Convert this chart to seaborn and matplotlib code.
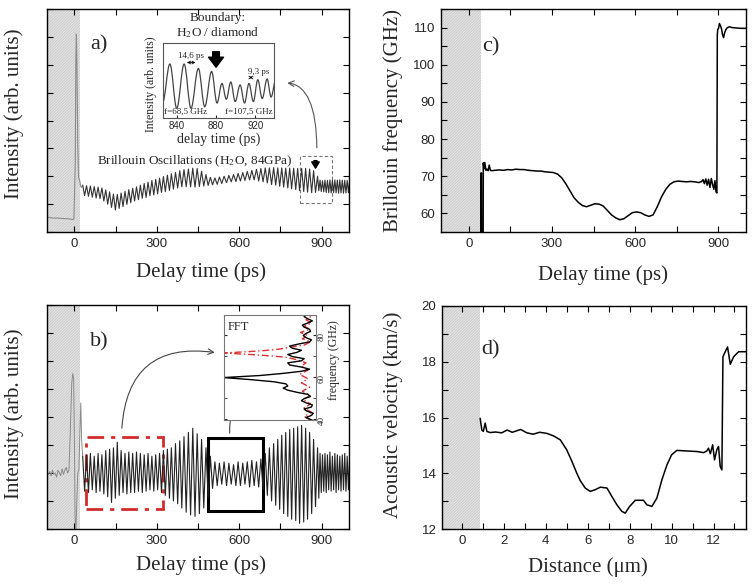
import matplotlib
matplotlib.use("Agg")
import matplotlib.pyplot as plt
import seaborn as sns
from matplotlib.patches import Rectangle, PathPatch
from matplotlib.path import Path
from matplotlib.ticker import MultipleLocator

# ---- data ----
# a)/b) extrema of the Brillouin oscillations (ps)
t_osc = [30, 37, 44, 51, 58, 65, 72, 79, 86, 93,
         100, 107, 114, 121, 128, 135, 142, 149, 156, 163,
         170, 177, 184, 191, 198, 205, 212, 219, 226, 233,
         240, 247, 254, 261, 268, 275, 282, 289, 296, 303,
         310, 317, 324, 331, 338.5, 346, 353, 360.5, 368, 376,
         383.5, 391, 399, 407, 415, 423, 431, 439, 447, 455,
         463, 471, 479, 487, 495, 503, 511.5, 520, 528, 536.5,
         545, 554, 562.5, 571, 579.5, 588, 596, 604.5, 613, 621,
         629.5, 638, 646, 654.5, 663, 671, 679, 687, 695, 702.5,
         710, 718, 725.5, 733, 740.5, 747.5, 755, 762, 769.5, 777,
         784, 791, 798.5, 806, 813, 820, 827.5, 835, 842, 849,
         856.5, 864, 871, 878, 885.5, 890, 894.5, 899, 903.5, 908,
         912.5, 917, 921.5, 926, 930.5, 935, 939.5, 944, 948.5, 953,
         957.5, 962, 966.5, 971, 975.5, 980, 984.5, 989, 993.5, 998,
         1002.5]
a_osc = [1.68, 1.31, 1.66, 1.28, 1.65, 1.25, 1.63, 1.22, 1.61, 1.20,
         1.58, 1.11, 1.51, 1.00, 1.44, 0.88, 1.36, 0.79, 1.35, 0.85,
         1.40, 0.91, 1.46, 0.99, 1.52, 1.05, 1.57, 1.11, 1.62, 1.16,
         1.68, 1.21, 1.74, 1.24, 1.79, 1.30, 1.85, 1.33, 1.89, 1.37,
         1.93, 1.42, 1.99, 1.45, 2.04, 1.49, 2.09, 1.54, 2.14, 1.58,
         2.20, 1.62, 2.24, 1.62, 2.26, 1.62, 2.29, 1.61, 2.28, 1.63,
         2.18, 1.65, 2.06, 1.67, 1.96, 1.69, 1.94, 1.71, 1.97, 1.74,
         2.00, 1.77, 2.03, 1.80, 2.06, 1.81, 2.10, 1.83, 2.13, 1.85,
         2.17, 1.87, 2.21, 1.87, 2.25, 1.83, 2.28, 1.80, 2.30, 1.76,
         2.30, 1.70, 2.31, 1.68, 2.30, 1.64, 2.30, 1.61, 2.29, 1.58,
         2.29, 1.55, 2.29, 1.52, 2.28, 1.48, 2.28, 1.45, 2.28, 1.43,
         2.26, 1.41, 2.20, 1.42, 2.00, 1.48, 1.86, 1.45, 1.84, 1.44,
         1.86, 1.42, 1.85, 1.41, 1.87, 1.40, 1.86, 1.41, 1.87, 1.40,
         1.86, 1.39, 1.87, 1.40, 1.86, 1.39, 1.86, 1.40, 1.85, 1.41,
         1.86]
b_osc = [2.60, 1.35, 2.65, 1.30, 2.70, 1.40, 2.60, 1.30, 2.70, 1.35,
         2.65, 1.25, 2.80, 1.15, 2.85, 0.95, 2.90, 1.10, 3.10, 1.20,
         2.80, 1.30, 2.70, 1.25, 2.75, 1.30, 2.70, 1.30, 2.75, 1.35,
         2.70, 1.30, 2.65, 1.35, 2.70, 1.40, 2.60, 1.35, 2.65, 1.40,
         2.70, 1.30, 2.80, 1.20, 2.85, 1.10, 2.90, 1.00, 3.05, 0.90,
         3.15, 0.75, 3.30, 0.60, 3.45, 0.50, 3.60, 0.45, 3.40, 0.55,
         3.20, 0.75, 2.90, 1.10, 2.60, 1.45, 2.40, 1.55, 2.35, 1.60,
         2.40, 1.55, 2.35, 1.60, 2.30, 1.55, 2.40, 1.55, 2.35, 1.60,
         2.40, 1.50, 2.45, 1.55, 2.40, 1.50, 2.50, 1.40, 2.70, 1.20,
         2.90, 1.00, 3.05, 0.85, 3.20, 0.70, 3.35, 0.55, 3.45, 0.45,
         3.55, 0.35, 3.60, 0.30, 3.65, 0.20, 3.70, 0.25, 3.60, 0.35,
         3.45, 0.55, 3.20, 0.80, 2.90, 1.10, 2.70, 1.30, 2.65, 1.35,
         2.70, 1.30, 2.65, 1.40, 2.75, 1.35, 2.60, 1.40, 2.70, 1.30,
         2.65, 1.40, 2.60, 1.35, 2.65, 1.40, 2.70, 1.35, 2.60, 1.40,
         2.65]

# signal before / around time zero
t_pre_a = [-100, -92, -80, -65, -50, -35, -20, -8, -2, 3, 5, 7, 9, 12, 15, 19, 23, 27, 30]
v_pre_a = [0.55, 0.52, 0.50, 0.50, 0.49, 0.48, 0.47, 0.45, 0.47, 2.5, 6.2, 7.1, 6.0, 3.2, 1.95, 1.85, 1.62, 1.60, 1.68]
t_pre_b = [-100, -95, -90, -85, -80, -75, -70, -65, -60, -55, -50, -45, -40, -35, -30, -25,
           -20, -15, -10, -6, -3, 0, 2, 5, 8, 12, 16, 20, 23, 26, 30]
v_pre_b = [2.0, 1.95, 2.05, 1.9, 2.1, 1.95, 2.0, 1.85, 2.1, 2.0, 1.9, 2.15, 1.95, 2.1, 2.2, 2.0,
           2.1, 3.5, 5.2, 5.55, 5.4, 3.0, 0.5, -0.2, 0.8, 2.0, 2.1, 3.5, 4.5, 3.2, 2.6]

# inset of a): boundary region
t_in = [825.5, 833, 840, 847.5, 854.5, 862, 868.5, 875.5, 881, 886, 890.5, 895, 899.5,
        904.5, 909, 913.5, 918, 922.5, 927, 932, 936, 941]
v_in = [0.20, 0.72, 0.13, 0.72, 0.13, 0.66, 0.15, 0.62, 0.20, 0.46, 0.25, 0.48, 0.22,
        0.44, 0.20, 0.46, 0.22, 0.51, 0.26, 0.52, 0.28, 0.52]

# inset of b): FFT (frequency in GHz, amplitude arb.)
f_fft_k = [39.2, 40.5, 41.5, 42.5, 43.5, 44.5, 45.5, 46.5, 47.5, 48.5, 49.5, 50.5, 51.5,
           52.5, 53.5, 54.5, 55.5, 56.5, 57.5, 58.5, 59.5, 60.5, 61.5, 62.5, 63.5, 64.5,
           65.5, 66.5, 67.5, 68.5, 69.5, 70.5, 71.5, 72.5, 73.5, 74.5, 75.5, 76.5, 77.5,
           78.5, 79.5, 80.5, 81.5, 82.5, 83.5, 84.5, 85.5, 86.5, 87.5, 88.5, 89.3]
a_fft_k = [0.03, 0.10, 0.04, 0.02, 0.09, 0.12, 0.04, 0.03, 0.10, 0.15, 0.12, 0.05, 0.08,
           0.20, 0.30, 0.35, 0.30, 0.32, 0.45, 0.70, 1.00, 0.60, 0.35, 0.15, 0.06, 0.15,
           0.28, 0.30, 0.15, 0.12, 0.25, 0.30, 0.20, 0.15, 0.25, 0.28, 0.18, 0.06, 0.04,
           0.10, 0.13, 0.10, 0.05, 0.06, 0.12, 0.14, 0.08, 0.03, 0.08, 0.12, 0.10]
f_fft_r = [39.2, 41, 43, 45, 47, 49, 51, 53, 55, 57, 59, 61, 63, 65, 66.5, 68, 69.2, 70.2,
           71.2, 72.2, 73, 73.9, 75, 76.5, 78, 79.5, 81, 82.5, 84, 85.5, 87, 88.5, 89.3]
a_fft_r = [0.05, 0.12, 0.04, 0.12, 0.05, 0.13, 0.05, 0.14, 0.06, 0.15, 0.08, 0.17, 0.08,
           0.15, 0.10, 0.20, 0.32, 0.60, 1.00, 0.60, 0.40, 0.28, 0.12, 0.05, 0.14, 0.08,
           0.16, 0.06, 0.12, 0.04, 0.10, 0.05, 0.08]

# c) Brillouin frequency vs delay time
t_c = [44, 44.5, 46, 46.5, 52, 52.5, 55, 58, 62, 66, 70, 74, 78, 84, 95, 110, 125, 140,
       155, 170, 185, 200, 215, 230, 245, 260, 275, 290, 305, 320, 335, 350, 365, 380,
       395, 410, 425, 440, 455, 470, 485, 500, 515, 530, 545, 560, 575, 590, 605, 620,
       635, 650, 665, 680, 695, 710, 725, 740, 755, 770, 785, 800, 815, 830, 840, 845,
       850, 855, 860, 865, 870, 875, 880, 884, 888, 892, 895, 896.5, 898, 901, 904, 908,
       912, 915, 919, 923, 927, 933, 940, 950, 965, 980, 1000]
f_c = [54, 70.9, 70.9, 54, 54, 73.6, 72.0, 73.7, 71.6, 71.9, 71.5, 73.0, 71.6, 71.5,
       71.6, 71.7, 71.6, 71.8, 71.7, 71.9, 71.8, 71.8, 71.6, 71.5, 71.4, 71.4, 71.2,
       71.1, 71.0, 70.6, 69.6, 68.0, 66.1, 64.2, 63.0, 62.1, 61.8, 62.2, 62.6, 62.5,
       62.0, 60.8, 59.6, 58.8, 58.3, 58.6, 59.4, 60.2, 60.4, 60.2, 59.6, 59.2, 59.6,
       61.8, 64.4, 66.4, 67.8, 68.5, 68.7, 68.6, 68.5, 68.6, 68.5, 68.3, 68.6, 69.1,
       68.0, 69.3, 67.6, 69.2, 67.0, 69.4, 67.6, 66.5, 68.8, 65.8, 65.5, 108.0, 109.5,
       109.8, 111.1, 110.5, 109.6, 108.2, 107.3, 108.6, 109.4, 110.0, 110.2, 110.0,
       109.9, 109.8, 109.8]

# d) acoustic velocity vs distance
x_d = [0.87, 0.95, 1.02, 1.11, 1.19, 1.35, 1.6, 1.9, 2.15, 2.4, 2.8, 3.1, 3.4, 3.7, 4.05,
       4.37, 4.69, 5.0, 5.25, 5.48, 5.64, 5.88, 6.12, 6.36, 6.6, 6.92, 7.15, 7.39, 7.63,
       7.79, 8.0, 8.27, 8.66, 8.82, 9.06, 9.3, 9.54, 9.78, 10.0, 10.25, 10.7, 11.2, 11.53,
       11.68, 11.76, 11.85, 11.96, 12.05, 12.16, 12.24, 12.32, 12.4, 12.45, 12.56, 12.67,
       12.8, 12.96, 13.2, 13.55]
v_d = [15.97, 15.55, 15.5, 15.8, 15.5, 15.46, 15.48, 15.45, 15.55, 15.47, 15.57, 15.45,
       15.4, 15.47, 15.43, 15.34, 15.2, 14.84, 14.42, 14.0, 13.74, 13.47, 13.35, 13.41,
       13.5, 13.47, 13.17, 12.87, 12.63, 12.57, 12.81, 13.03, 13.03, 12.87, 12.81, 13.11,
       13.77, 14.3, 14.66, 14.82, 14.8, 14.78, 14.74, 14.8, 14.9, 14.7, 15.02, 14.48,
       14.85, 14.96, 14.24, 14.12, 18.18, 18.36, 18.53, 17.91, 18.18, 18.36, 18.36]

# ---- style ----
sns.set_style("ticks")
plt.rcParams["font.family"] = ["Liberation Sans", "DejaVu Sans"]
plt.rcParams["mathtext.fontset"] = "stix"
plt.rcParams["hatch.linewidth"] = 0.5
SERIF = ["Liberation Serif", "DejaVu Serif"]
LBL = 15

fig = plt.figure(figsize=(7.53, 5.86), dpi=100)
ax_a = fig.add_axes([47 / 753, 1 - 232 / 586, 302 / 753, 223 / 586])
ax_b = fig.add_axes([47 / 753, 1 - 529 / 586, 302 / 753, 224 / 586])
ax_c = fig.add_axes([441 / 753, 1 - 232 / 586, 305 / 753, 223 / 586])
ax_d = fig.add_axes([442 / 753, 1 - 529 / 586, 304 / 753, 223 / 586])


def shade(ax, x0, x1):
    ax.axvspan(x0, x1, facecolor="#e3e3e3", edgecolor="#c6c6c6", hatch="/" * 12, lw=0, zorder=0)


def smooth_path(xs, ys):
    verts = [(xs[0], ys[0])]
    codes = [Path.MOVETO]
    for x0, y0, x1, y1 in zip(xs[:-1], ys[:-1], xs[1:], ys[1:]):
        d = (x1 - x0) * 0.364
        verts += [(x0 + d, y0), (x1 - d, y1), (x1, y1)]
        codes += [Path.CURVE4] * 3
    return Path(verts, codes)


for ax in (ax_a, ax_b, ax_c, ax_d):
    ax.tick_params(which="both", direction="in", top=True, right=True, length=4,
                   width=0.8, labelsize=9.5, pad=4, color="k")
    for s in ax.spines.values():
        s.set_linewidth(1.0)
        s.set_color("k")

# ---- a) ----
shade(ax_a, -100, 22)
sns.lineplot(x=t_pre_a, y=v_pre_a, sort=False, estimator=None, color="#8a8a8a", lw=0.8, ax=ax_a)
sns.lineplot(x=t_osc, y=a_osc, sort=False, estimator=None, color="#333333", lw=0.8, ax=ax_a)
ax_a.set_xlim(-100, 1000)
ax_a.set_ylim(0, 8)
ax_a.xaxis.set_major_locator(MultipleLocator(300))
ax_a.xaxis.set_minor_locator(MultipleLocator(150))
ax_a.yaxis.set_major_locator(MultipleLocator(1))
ax_a.tick_params(labelleft=False)
ax_a.set_xlabel("Delay time (ps)", fontsize=LBL, family=SERIF)
ax_a.set_ylabel("Intensity (arb. units)", fontsize=LBL, family=SERIF)
ax_a.xaxis.set_label_coords(0.509, -0.135)
ax_a.yaxis.set_label_coords(-0.076, 0.53)
ax_a.text(58, 6.73, "a)", fontsize=16, family=SERIF, va="center")
ax_a.text(520, 7.66, "Boundary:", fontsize=9.5, family=SERIF, ha="center", va="center")
ax_a.text(520, 7.16, "H$_2$O / diamond", fontsize=9.5, family=SERIF, ha="center", va="center")
ax_a.text(437, 2.55, "Brillouin Oscillations (H$_2$O, 84GPa)", fontsize=9.5, family=SERIF,
          ha="center", va="center")
ax_a.add_patch(Rectangle((820, 1.05), 117, 1.68, fill=False, ec="#777777", lw=0.8, ls=(0, (3, 2))))
ax_a.annotate("", xy=(878, 2.19), xytext=(878, 2.66),
              arrowprops=dict(arrowstyle="simple,head_length=0.5,head_width=0.6,tail_width=0.25",
                              fc="k", ec="k", mutation_scale=9))
ax_a.annotate("", xy=(765, 5.35), xytext=(883, 2.92),
              arrowprops=dict(arrowstyle="->", color="#555555", lw=0.8,
                              connectionstyle="angle3,angleA=90,angleB=0"))

# inset of a)
ax_in = fig.add_axes([163 / 753, 1 - 118 / 586, 111 / 753, 75 / 586])
ax_in.add_patch(PathPatch(smooth_path(t_in, v_in), fill=False, ec="#444444", lw=0.9))
ax_in.set_xlim(826, 939)
ax_in.set_ylim(0, 1)
ax_in.set_xticks([840, 880, 920])
ax_in.set_yticks([])
ax_in.tick_params(axis="x", direction="in", length=2.5, labelsize=7, pad=2)
for s in ax_in.spines.values():
    s.set_linewidth(0.8)
    s.set_color("#555555")
ax_in.set_xlabel("delay time (ps)", fontsize=10, family=SERIF, labelpad=1)
ax_in.set_ylabel("Intensity (arb. units)", fontsize=8.5, family=SERIF, labelpad=2)
ax_in.yaxis.set_label_coords(-0.05, 0.45)
ax_in.text(855, 0.83, "14,6 ps", fontsize=6.5, family=SERIF, ha="center", va="center")
ax_in.annotate("", xy=(847.5, 0.74), xytext=(862, 0.74),
               arrowprops=dict(arrowstyle="<->", lw=0.6, color="k", mutation_scale=5))
ax_in.text(923, 0.62, "9,3 ps", fontsize=6.5, family=SERIF, ha="center", va="center")
ax_in.annotate("", xy=(911, 0.54), xytext=(920, 0.54),
               arrowprops=dict(arrowstyle="<->", lw=0.6, color="k", mutation_scale=5))
ax_in.text(827, 0.08, "f=68,5 GHz", fontsize=6.5, family=SERIF, ha="left", va="center")
ax_in.text(937.5, 0.08, "f=107,5 GHz", fontsize=6.5, family=SERIF, ha="right", va="center")
ax_in.annotate("", xy=(880, 0.64), xytext=(880, 0.92),
               arrowprops=dict(arrowstyle="simple,head_length=0.6,head_width=0.9,tail_width=0.4",
                               fc="k", ec="k", mutation_scale=12))

# ---- b) ----
shade(ax_b, -100, 22)
sns.lineplot(x=t_pre_b, y=v_pre_b, sort=False, estimator=None, color="#8a8a8a", lw=0.7, ax=ax_b)
sns.lineplot(x=t_osc, y=b_osc, sort=False, estimator=None, color="#222222", lw=0.8, ax=ax_b)
ax_b.set_xlim(-100, 1000)
ax_b.set_ylim(0, 8)
ax_b.xaxis.set_major_locator(MultipleLocator(300))
ax_b.xaxis.set_minor_locator(MultipleLocator(150))
ax_b.yaxis.set_major_locator(MultipleLocator(1))
ax_b.tick_params(labelleft=False)
ax_b.set_xlabel("Delay time (ps)", fontsize=LBL, family=SERIF)
ax_b.set_ylabel("Intensity (arb. units)", fontsize=LBL, family=SERIF)
ax_b.xaxis.set_label_coords(0.509, -0.116)
ax_b.yaxis.set_label_coords(-0.076, 0.516)
ax_b.text(58, 6.68, "b)", fontsize=16, family=SERIF, va="center")
ax_b.add_patch(Rectangle((43, 0.72), 279, 2.58, fill=False, ec="#d42a2a", lw=2,
                         ls=(0, (6, 2.5, 1.5, 2.5))))
ax_b.add_patch(Rectangle((488, 0.65), 199, 2.59, fill=False, ec="k", lw=2.2))
ax_b.annotate("", xy=(521, 6.29), xytext=(172, 3.5),
              arrowprops=dict(arrowstyle="->", color="#444444", lw=0.8,
                              connectionstyle="arc3,rad=-0.55"))
ax_b.annotate("", xy=(624, 5.12), xytext=(566, 3.32),
              arrowprops=dict(arrowstyle="->", color="#444444", lw=0.8,
                              connectionstyle="arc3,rad=-0.2"))

# FFT inset of b)
ax_f = fig.add_axes([224 / 753, 1 - 420 / 586, 92 / 753, 105 / 586])
sns.lineplot(x=a_fft_r, y=f_fft_r, sort=False, estimator=None, color="#e03030", lw=1.0,
             linestyle=(0, (5, 2, 1, 2)), ax=ax_f)
sns.lineplot(x=a_fft_k, y=f_fft_k, sort=False, estimator=None, color="k", lw=1.0, ax=ax_f)
ax_f.set_xlim(1.0, -0.01)
ax_f.set_ylim(39.3, 89.3)
ax_f.set_xticks([])
ax_f.yaxis.tick_right()
ax_f.set_yticks([40, 60, 80], labels=["40", "60", "80"], family=SERIF)
ax_f.yaxis.set_minor_locator(MultipleLocator(10))
ax_f.tick_params(axis="y", which="both", direction="in", length=2.5, labelsize=6.5,
                 labelrotation=90, pad=1, left=True)
ax_f.yaxis.set_label_position("right")
ax_f.set_ylabel("frequency (GHz)", fontsize=8.5, family=SERIF)
ax_f.yaxis.set_label_coords(1.13, 0.57)
ax_f.set_xlabel("")
for s in ax_f.spines.values():
    s.set_linewidth(0.8)
    s.set_color("#777777")
ax_f.text(0.04, 0.886, "FFT", transform=ax_f.transAxes, fontsize=9, family=SERIF, va="center")

# ---- c) ----
shade(ax_c, -100, 45)
sns.lineplot(x=t_c, y=f_c, sort=False, estimator=None, color="k", lw=1.1, ax=ax_c)
ax_c.set_xlim(-100, 1000)
ax_c.set_ylim(55, 115)
ax_c.xaxis.set_major_locator(MultipleLocator(300))
ax_c.xaxis.set_minor_locator(MultipleLocator(150))
ax_c.yaxis.set_major_locator(MultipleLocator(10))
ax_c.yaxis.set_minor_locator(MultipleLocator(5))
ax_c.set_xlabel("Delay time (ps)", fontsize=LBL, family=SERIF)
ax_c.set_ylabel("Brillouin frequency (GHz)", fontsize=LBL, family=SERIF)
ax_c.xaxis.set_label_coords(0.53, -0.148)
ax_c.yaxis.set_label_coords(-0.125, 0.5)
ax_c.text(48, 104.7, "c)", fontsize=16, family=SERIF, va="center")

# ---- d) ----
shade(ax_d, -0.95, 0.87)
sns.lineplot(x=x_d, y=v_d, sort=False, estimator=None, color="k", lw=1.1, ax=ax_d)
ax_d.set_xlim(-0.95, 13.55)
ax_d.set_ylim(12, 20)
ax_d.xaxis.set_major_locator(MultipleLocator(2))
ax_d.xaxis.set_minor_locator(MultipleLocator(1))
ax_d.yaxis.set_major_locator(MultipleLocator(2))
ax_d.yaxis.set_minor_locator(MultipleLocator(1))
ax_d.set_xlabel("Distance (\u03bcm)", fontsize=LBL, family=SERIF)
ax_d.set_ylabel("Acoustic velocity (km/s)", fontsize=LBL, family=SERIF)
ax_d.xaxis.set_label_coords(0.48, -0.125)
ax_d.yaxis.set_label_coords(-0.128, 0.51)
ax_d.text(0.94, 18.41, "d)", fontsize=16, family=SERIF, va="center")

fig.savefig("out.png", dpi=100)
